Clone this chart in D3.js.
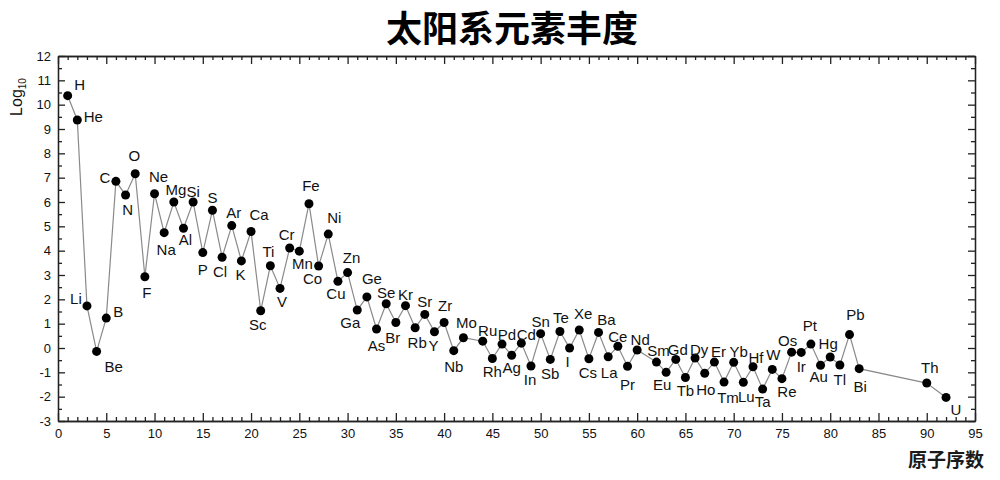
<!DOCTYPE html>
<html>
<head>
<meta charset="utf-8">
<script src="https://cdn.jsdelivr.net/npm/d3@7/dist/d3.min.js"></script>
<style>
    body { margin: 0; background: #fff; }
    text { font-family: 'Liberation Sans', Arial, sans-serif; fill: #111; }
    .cjk { font-family: 'Noto Sans CJK SC', sans-serif; font-weight: bold; }
</style>
</head>
<body>
<div id="chart"></div>
<script>
// element symbols, atomic numbers and log10 abundances (Si = 10^6)
var symbols = ['H','He','Li','Be','B','C','N','O','F','Ne','Na','Mg','Al','Si','P','S','Cl','Ar','K','Ca',
    'Sc','Ti','V','Cr','Mn','Fe','Co','Ni','Cu','Zn','Ga','Ge','As','Se','Br','Kr','Rb','Sr','Y','Zr',
    'Nb','Mo','Ru','Rh','Pd','Ag','Cd','In','Sn','Sb','Te','I','Xe','Cs','Ba','La','Ce','Pr','Nd',
    'Sm','Eu','Gd','Tb','Dy','Ho','Er','Tm','Yb','Lu','Hf','Ta','W','Re','Os','Ir','Pt','Au','Hg','Tl',
    'Pb','Bi','Th','U']
var atomicNumbers = [1,2,3,4,5,6,7,8,9,10,11,12,13,14,15,16,17,18,19,20,
    21,22,23,24,25,26,27,28,29,30,31,32,33,34,35,36,37,38,39,40,
    41,42,44,45,46,47,48,49,50,51,52,53,54,55,56,57,58,59,60,
    62,63,64,65,66,67,68,69,70,71,72,73,74,75,76,77,78,79,80,81,
    82,83,90,92]
var logAbundance = [10.37,9.37,1.73,-0.14,1.23,6.85,6.29,7.16,2.93,6.34,4.74,6.00,4.92,6.00,3.92,5.66,3.73,5.03,3.58,4.79,
    1.53,3.38,2.45,4.11,3.98,5.93,3.37,4.68,2.74,3.10,1.56,2.10,0.78,1.82,1.05,1.74,0.83,1.38,0.67,1.05,
    -0.11,0.42,0.28,-0.43,0.16,-0.30,0.20,-0.74,0.59,-0.47,0.68,0.00,0.74,-0.44,0.64,-0.36,0.07,-0.75,-0.08,
    -0.58,-1.00,-0.47,-1.21,-0.41,-1.04,-0.58,-1.40,-0.59,-1.41,-0.77,-1.69,-0.88,-1.26,-0.17,-0.18,0.16,-0.71,-0.37,-0.70,
    0.55,-0.85,-1.44,-2.03]

var xTickValues = [0,5,10,15,20,25,30,35,40,45,50,55,60,65,70,75,80,85,90,95]
var yTickValues = [-3,-2,-1,0,1,2,3,4,5,6,7,8,9,10,11,12]

// label nudges [dx, dy] relative to each point (text centre / baseline)
var labelOffsets = [[12,-6],[16,2],[-11,-2],[17,21],[12,-1],[-11,2],[2,20],[-1,-13],[2,21],[4,-12],
    [2,22],[2,-7],[2,17],[0,-5],[0,22],[0,-7],[-2,20],[2,-8],[-1,19],[8,-11],
    [-3,19],[-2,-9],[2,19],[-3,-8],[3,18],[2,-13],[-6,18],[6,-11],[-2,18],[4,-10],
    [-7,18],[5,-13],[0,22],[0,-6],[-3,21],[0,-6],[2,20],[0,-7],[-1,19],[1,-11],
    [0,21],[3,-10],[5,-5],[0,19],[5,-4],[0,18],[5,-3],[-1,19],[0,-7],[0,20],
    [1,-8],[-2,19],[4,-11],[-1,19],[8,-7],[1,21],[0,-4],[0,24],[3,-5],
    [2,-6],[-4,18],[2,-4],[0,19],[4,-3],[1,22],[4,-5],[4,21],[5,-5],[3,20],
    [3,-4],[0,18],[1,-9],[5,18],[-4,-6],[0,20],[-1,-13],[-2,17],[-2,-8],[0,20],
    [6,-15],[1,23],[3,-10],[10,18]]

var data = symbols.map((s, i) => ({sym: s, z: atomicNumbers[i], v: logAbundance[i], off: labelOffsets[i]}))

var size = ({width: 1000, height: 480})
var margin = ({top: 56, right: 25, bottom: 59, left: 58})

var x = d3.scaleLinear()
    .domain([0, 95])
    .range([margin.left, size.width - margin.right])

var y = d3.scaleLinear()
    .domain([-3, 12])
    .range([size.height - margin.bottom, margin.top])

const svg = d3.select('#chart')
    .append('svg')
    .attr('width', size.width)
    .attr('height', size.height)

var xMinor = d3.range(0, 96, 1).filter(d => d % 5 !== 0)
var yMinor = d3.range(-2.5, 12, 1)

// axes: ticks point inward on all four sides
var bottomAxis = g => g
    .attr('transform', `translate(0, ${y(-3)})`)
    .call(d3.axisBottom(x).tickValues(xTickValues).tickSize(-8).tickPadding(8).tickSizeOuter(0))
var bottomMinor = g => g
    .attr('transform', `translate(0, ${y(-3)})`)
    .call(d3.axisBottom(x).tickValues(xMinor).tickSize(-4).tickFormat('').tickSizeOuter(0))
var topAxis = g => g
    .attr('transform', `translate(0, ${y(12)})`)
    .call(d3.axisTop(x).tickValues(xTickValues).tickSize(-8).tickFormat('').tickSizeOuter(0))
var topMinor = g => g
    .attr('transform', `translate(0, ${y(12)})`)
    .call(d3.axisTop(x).tickValues(xMinor).tickSize(-4).tickFormat('').tickSizeOuter(0))
var leftAxis = g => g
    .attr('transform', `translate(${x(0)}, 0)`)
    .call(d3.axisLeft(y).tickValues(yTickValues).tickFormat(d => String(d)).tickSize(-7).tickPadding(7).tickSizeOuter(0))
var leftMinor = g => g
    .attr('transform', `translate(${x(0)}, 0)`)
    .call(d3.axisLeft(y).tickValues(yMinor).tickSize(-4).tickFormat('').tickSizeOuter(0))
var rightAxis = g => g
    .attr('transform', `translate(${x(95)}, 0)`)
    .call(d3.axisRight(y).tickValues(yTickValues).tickSize(-7).tickFormat('').tickSizeOuter(0))
var rightMinor = g => g
    .attr('transform', `translate(${x(95)}, 0)`)
    .call(d3.axisRight(y).tickValues(yMinor).tickSize(-4).tickFormat('').tickSizeOuter(0))

;[bottomAxis, bottomMinor, topAxis, topMinor, leftAxis, leftMinor, rightAxis, rightMinor].forEach(a => {
    svg.append('g').call(a)
        .call(g => g.selectAll('path, line').attr('stroke', '#222').attr('stroke-width', 1.3))
        .call(g => g.selectAll('text').attr('font-size', 13).attr('font-family', "'Liberation Sans', Arial, sans-serif").attr('fill', '#222'))
})

// connecting line
var line = d3.line()
    .x(d => x(d.z))
    .y(d => y(d.v))

svg.append('path')
    .datum(data)
    .attr('fill', 'none')
    .attr('stroke', '#8a8a8a')
    .attr('stroke-width', 1.2)
    .attr('d', line)

svg.append('g')
    .selectAll('circle')
    .data(data)
    .join('circle')
        .attr('cx', d => x(d.z))
        .attr('cy', d => y(d.v))
        .attr('r', 4.5)
        .attr('fill', '#000')

svg.append('g')
    .selectAll('text')
    .data(data)
    .join('text')
        .attr('x', d => x(d.z) + d.off[0])
        .attr('y', d => y(d.v) + d.off[1])
        .attr('text-anchor', 'middle')
        .attr('font-size', 15)
        .text(d => d.sym)

// title and axis labels
svg.append('text')
    .attr('class', 'cjk')
    .attr('x', 512)
    .attr('y', 42)
    .attr('text-anchor', 'middle')
    .attr('font-size', 36)
    .style('fill', '#000')
    .text('太阳系元素丰度')

svg.append('text')
    .attr('class', 'cjk')
    .attr('x', 984)
    .attr('y', 467)
    .attr('text-anchor', 'end')
    .attr('font-size', 19)
    .style('fill', '#1a1a1a')
    .text('原子序数')

var ylab = svg.append('text')
    .attr('transform', 'translate(22, 97) rotate(-90)')
    .attr('text-anchor', 'middle')
    .attr('font-size', 16)
ylab.append('tspan').text('Log')
ylab.append('tspan').attr('font-size', 10).attr('dy', 4).text('10')
</script>
</body>
</html>
